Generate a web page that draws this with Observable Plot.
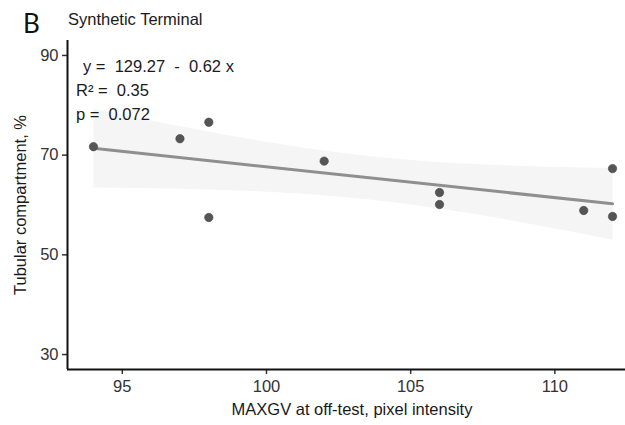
<!DOCTYPE html>
<html>
<head>
<meta charset="utf-8">
<script src="https://cdn.jsdelivr.net/npm/d3@7"></script>
<script src="https://cdn.jsdelivr.net/npm/@observablehq/plot@0.6"></script>
<style>
  body { margin: 0; background: #fff; }
  #wrap { position: relative; width: 625px; height: 425px; overflow: hidden; background: #fff; }
  #wrap svg { max-width: none !important; }
  #wrap svg text { white-space: pre; }
</style>
</head>
<body>
<div id="wrap"></div>
<script>
// ---- data ----
const maxgv = [94, 97, 98, 98, 102, 106, 106, 111, 112, 112];
const tubular = [71.7, 73.3, 76.6, 57.5, 68.8, 62.5, 60.1, 58.9, 67.3, 57.7];
const xTicks = [95, 100, 105, 110];
const yTicks = [30, 50, 70, 90];
const panelTag = "B";
const title = "Synthetic Terminal";
const xTitle = "MAXGV at off-test, pixel intensity";
const yTitle = "Tubular compartment, %";
const annotation = ["y =  129.27  -  0.62 x", "R\u00b2 =  0.35", "p =  0.072"];

const data = maxgv.map((x, i) => ({x, y: tubular[i]}));

const font = '"Liberation Sans", Arial, sans-serif';
const xDomain = [93.1, 112.9];
const yDomain = [27, 93];

const chart = Plot.plot({
  width: 638,
  height: 425,
  marginLeft: 67,
  marginRight: 0,
  marginTop: 40,
  marginBottom: 56,
  style: {fontFamily: font, fontSize: "16.5px", color: "#333", background: "transparent", maxWidth: "none"},
  x: {domain: xDomain},
  y: {domain: yDomain},
  marks: [
    Plot.linearRegressionY(data, {x: "x", y: "y", stroke: "#8f8f8f", strokeWidth: 3, fill: "#f5f5f5", fillOpacity: 1}),
    Plot.dot(data, {x: "x", y: "y", r: 4.2, fill: "#555", stroke: "#444", strokeWidth: 0.6}),
    Plot.axisX({ticks: xTicks, tickSize: 5, tickPadding: 6, label: null, stroke: "#333", strokeWidth: 1.5}),
    Plot.axisY({ticks: yTicks, tickSize: 5, tickPadding: 4, label: null, stroke: "#333", strokeWidth: 1.5}),
    Plot.ruleY([yDomain[0]], {stroke: "#111", strokeWidth: 2}),
    Plot.ruleX([xDomain[0]], {y1: yDomain[0], y2: yDomain[1], stroke: "#111", strokeWidth: 2})
  ]
});

const svg = d3.select(chart);
const g = svg.append("g").attr("text-anchor", "start").attr("font-family", font).attr("fill", "#1a1a1a");
// annotation lines
const ann = [[83, 72], [76, 96], [76, 120]];
annotation.forEach((t, i) => {
  g.append("text").attr("x", ann[i][0]).attr("y", ann[i][1])
    .attr("font-size", 16.5).attr("xml:space", "preserve").text(t);
});
// titles
g.append("text").attr("x", 23).attr("y", 33).attr("font-family", "Lato, 'Liberation Sans', sans-serif")
  .attr("font-size", 26).attr("fill", "#111").text(panelTag);
g.append("text").attr("x", 68).attr("y", 25).attr("font-size", 16.5).text(title);
g.append("text").attr("x", 352).attr("y", 415).attr("text-anchor", "middle")
  .attr("font-size", 16.5).text(xTitle);
g.append("text").attr("transform", "translate(26,205) rotate(-90)").attr("text-anchor", "middle")
  .attr("font-size", 16.5).text(yTitle);

document.getElementById("wrap").appendChild(chart);
</script>
</body>
</html>
